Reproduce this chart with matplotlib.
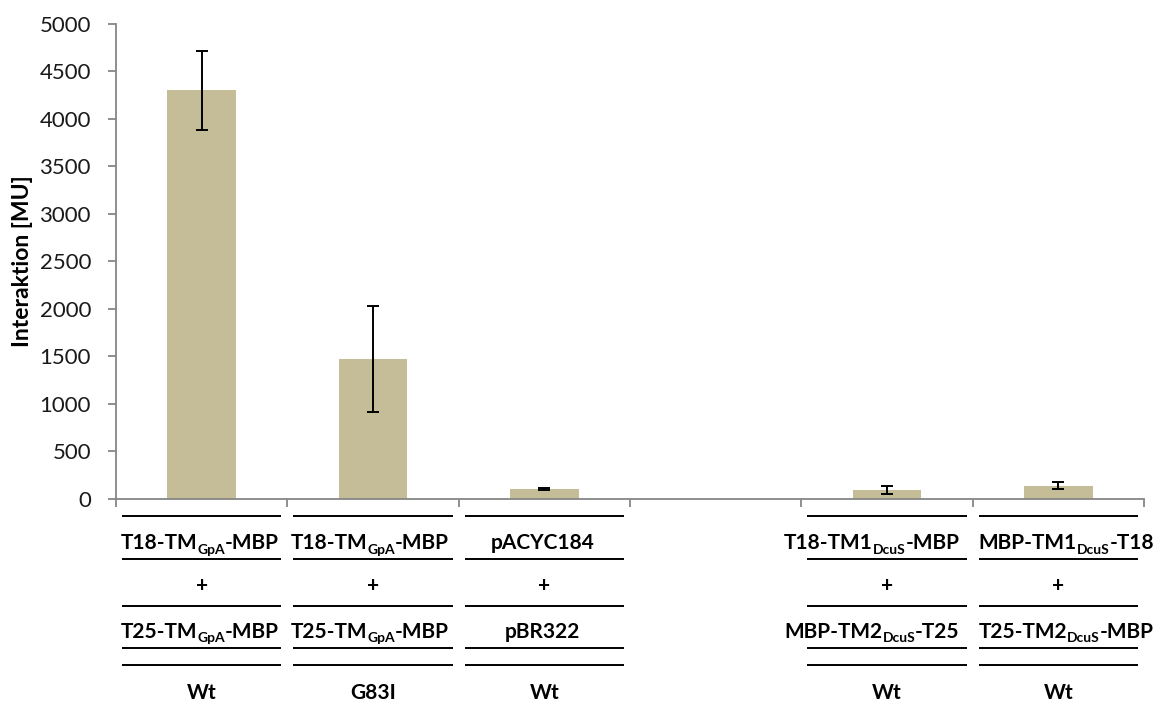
import numpy as np
import matplotlib
matplotlib.use("Agg")
import matplotlib.pyplot as plt
from matplotlib.font_manager import FontProperties
from matplotlib.transforms import offset_copy

plt.rcParams["font.family"] = ["Lato", "DejaVu Sans"]

# Measured interaction (Miller units) per construct pair; slot 3 is an empty gap
slots = [0, 1, 2, 3, 4, 5]
bar_slots = [0, 1, 2, 4, 5]
values = [4300, 1475, 105, 95, 140]
errors = [415, 557, 15, 38, 38]

# Table rows: each label is a list of (text, is_subscript) pieces
row_top = [
    [("T18-TM", False), ("GpA", True), ("-MBP", False)],
    [("T18-TM", False), ("GpA", True), ("-MBP", False)],
    [("pACYC184", False)],
    [],
    [("T18-TM1", False), ("DcuS", True), ("-MBP", False)],
    [("MBP-TM1", False), ("DcuS", True), ("-T18", False)],
]
row_mid = ["+", "+", "+", "", "+", "+"]
row_bot = [
    [("T25-TM", False), ("GpA", True), ("-MBP", False)],
    [("T25-TM", False), ("GpA", True), ("-MBP", False)],
    [("pBR322", False)],
    [],
    [("MBP-TM2", False), ("DcuS", True), ("-T25", False)],
    [("T25-TM2", False), ("DcuS", True), ("-MBP", False)],
]
row_var = ["Wt", "G83I", "Wt", "", "Wt", "Wt"]

y_ticks = [0, 500, 1000, 1500, 2000, 2500, 3000, 3500, 4000, 4500, 5000]

W, H = 1164, 704
fig = plt.figure(figsize=(W / 100, H / 100), dpi=100)

ax_left, ax_right = 116, 1144
ax_bottom, ax_top = 499, 23.7
ax = fig.add_axes([ax_left / W, (H - ax_bottom) / H,
                   (ax_right - ax_left) / W, (ax_bottom - ax_top) / H])

bar_color = "#C4BD97"
grey = "#868686"

ax.bar(bar_slots, values, width=0.4, color=bar_color, zorder=2)
ax.errorbar(bar_slots, values, yerr=errors, fmt="none", ecolor="black",
            elinewidth=1.4, capsize=4.2, capthick=1.4, zorder=3)

ax.set_xlim(-0.5, 5.5)
ax.set_ylim(0, 5000)
ax.set_yticks(y_ticks)
ax.set_yticklabels([str(t) for t in y_ticks], fontsize=16, color="#1a1a1a")
ax.set_xticks(np.arange(-0.5, 6.0, 1.0))
ax.set_xticklabels([])

for side in ("top", "right"):
    ax.spines[side].set_visible(False)
for side in ("left", "bottom"):
    ax.spines[side].set_color(grey)
    ax.spines[side].set_linewidth(1.3)
ax.tick_params(axis="y", direction="out", length=6, width=1.3, color=grey, pad=12)
ax.tick_params(axis="x", direction="out", length=6, width=1.3, color=grey)

ax.set_ylabel("Interaktion [MU]", fontsize=16.5, fontweight="bold")
ax.yaxis.set_label_coords((33 - ax_left) / (ax_right - ax_left), 0.5)

# Construct table below the bars, in pixel rows
tab = fig.add_axes([ax_left / W, 0, (ax_right - ax_left) / W, (H - 505) / H])
tab.set_xlim(-0.5, 5.5)
tab.set_ylim(H, 505)
tab.axis("off")

main_fp = FontProperties(family=["Lato", "DejaVu Sans"], weight="bold", size=15)
sub_fp = FontProperties(family=["Lato", "DejaVu Sans"], weight="bold", size=10)
renderer = fig.canvas.get_renderer()
sub_drop = 4.5  # pixels the subscript baseline sits below the main baseline
# horizontal nudge (pixels) of each column's construct names, so that the
# long names of neighbouring columns do not run into each other
name_shift = [-2, -3, -2, 0, -15, 8]


def draw_label(x, y, pieces, shift):
    widths = []
    for s, is_sub in pieces:
        fp = sub_fp if is_sub else main_fp
        w, _, _ = renderer.get_text_width_height_descent(s, fp, ismath=False)
        widths.append(w)
    cursor = shift - sum(widths) / 2.0
    for (s, is_sub), w in zip(pieces, widths):
        fp = sub_fp if is_sub else main_fp
        trans = offset_copy(tab.transData, fig=fig, x=cursor,
                            y=-sub_drop if is_sub else 0, units="dots")
        tab.text(x, y, s, fontproperties=fp, ha="left", va="baseline",
                 transform=trans, clip_on=False)
        cursor += w


rule_rows = [516, 559, 605.7, 647.7, 665]
for i in slots:
    if not row_var[i]:
        continue
    for yr in rule_rows:
        tab.plot([i - 0.465, i + 0.465], [yr, yr], color="black", lw=1.4,
                 solid_capstyle="butt", clip_on=False)
    draw_label(i, 549, row_top[i], name_shift[i])
    tab.text(i, 592, row_mid[i], fontproperties=main_fp, ha="center",
             va="baseline", clip_on=False)
    draw_label(i, 638, row_bot[i], name_shift[i])
    tab.text(i, 699, row_var[i], fontproperties=main_fp, ha="center",
             va="baseline", clip_on=False)

fig.savefig("out.png", dpi=100)
